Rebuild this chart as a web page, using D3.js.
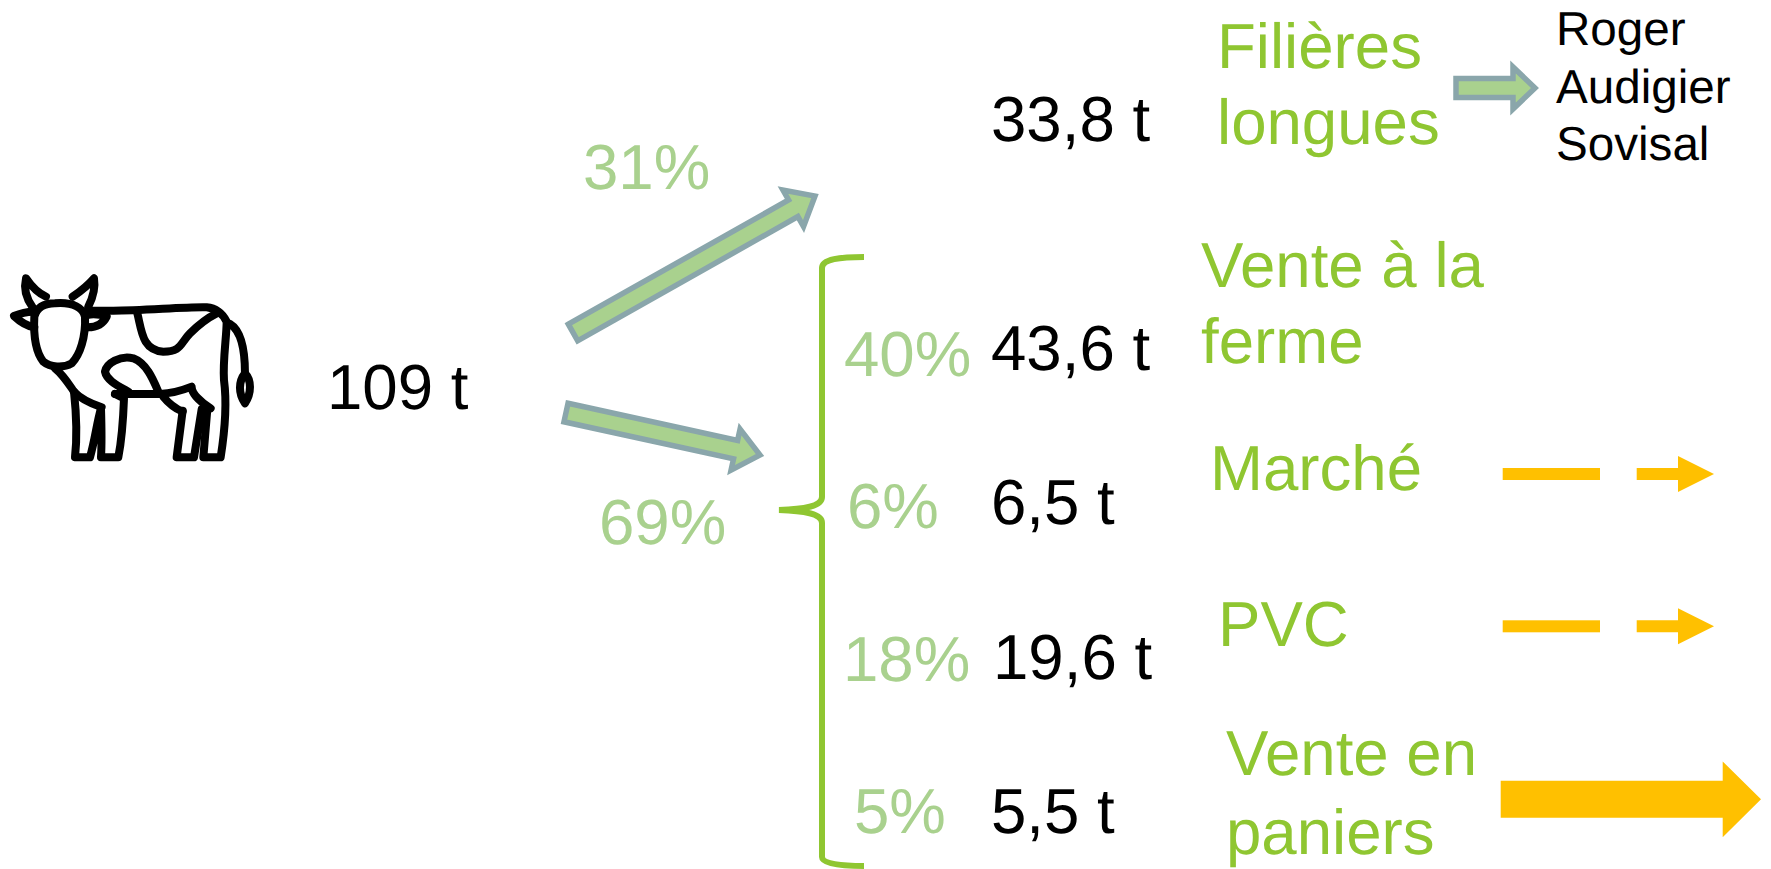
<!DOCTYPE html>
<html lang="fr">
<head>
<meta charset="utf-8">
<title>Débouchés</title>
<style>
	html, body { margin: 0; padding: 0; background: #fff; }
	svg { display: block; }
	text { font-family: "Liberation Sans", Arial, sans-serif; font-size: 63.6px; text-rendering: geometricPrecision; }
</style>
</head>
<body>
<svg id="chart" width="1771" height="869"></svg>
<script src="https://cdn.jsdelivr.net/npm/d3@7/dist/d3.min.js"></script>
<script>
'use strict';

// Values
var total = '109 t';
var splitShares = [ '31%', '69%' ];
var longTonnage = '33,8 t';
var longLabel = [ 'Filières', 'longues' ];
var buyers = [ 'Roger', 'Audigier', 'Sovisal' ];
var channels = [ 'ferme', 'marche', 'pvc', 'paniers' ];
var channelShares = [ '40%', '6%', '18%', '5%' ];
var channelTonnages = [ '43,6 t', '6,5 t', '19,6 t', '5,5 t' ];
var channelLabels = [ [ 'Vente à la', 'ferme' ], [ 'Marché' ], [ 'PVC' ], [ 'Vente en', 'paniers' ] ];

// Layout
var colors = {
	label: '#8fc631',
	share: '#a9d18e',
	border: '#8aa6ab',
	orange: '#ffc000'
};
var svg = d3.select('#chart');

var shareY = d3.scalePoint().domain(channels).range([ 376, 833 ]);
var tonnageY = d3.scalePoint().domain(channels).range([ 370, 833 ]);
var shareX = [ 844, 847, 843, 854 ];
var tonnageX = [ 991, 991, 993, 991 ];
var labelX = [ 1201, 1210, 1218, 1226 ];
var labelY = [ 287, 490, 646, 775 ];
var labelStep = [ 76, 0, 0, 79 ];

/**
 * Append one text element.
 * @param   {string} str
 * @param   {number} x
 * @param   {number} y
 * @param   {string} [fill]
 * @param   {number} [size]
 * @returns {D3Selection}
 */
function label(str, x, y, fill, size) {
	var t = svg.append('text')
		.attr('x', x)
		.attr('y', y)
		.attr('fill', fill || '#000')
		.text(str);
	if(size) {
		t.style('font-size', size + 'px');
	}
	return t;
}

/**
 * Outline of a block arrow going from a to b.
 * @param   {number[]} a      Tail centre.
 * @param   {number[]} b      Tip.
 * @param   {number}   shaft  Shaft width.
 * @param   {number}   head   Head width.
 * @param   {number}   len    Head length.
 * @returns {string}
 */
function blockArrow(a, b, shaft, head, len) {
	var dx = b[0] - a[0];
	var dy = b[1] - a[1];
	var l = Math.sqrt(dx * dx + dy * dy);
	var ux = dx / l;
	var uy = dy / l;
	var at = function(along, side) {
		return [ a[0] + ux * along - uy * side, a[1] + uy * along + ux * side ];
	};
	var points = [
		at(0, -shaft / 2),
		at(l - len, -shaft / 2),
		at(l - len, -head / 2),
		at(l, 0),
		at(l - len, head / 2),
		at(l - len, shaft / 2),
		at(0, shaft / 2)
	];
	return d3.line()(points) + 'Z';
}

// Cow icon, drawn in a 3x grid
var cowPaths = [
	'M165,160C130,160 110,175 103,200C100,260 110,310 130,335C150,352 190,355 215,340C240,315 258,260 255,200C250,175 220,155 165,160Z',
	'M98,172C75,140 72,110 78,85C95,110 115,130 138,140',
	'M218,140C240,125 265,105 282,85C287,115 275,150 265,170',
	'M100,185C80,185 60,190 42,198C60,215 80,228 103,232',
	'M264,232C290,232 310,220 320,200C305,195 285,190 262,195',
	'M262,182L340,182C430,182 560,170 620,172C650,175 670,195 680,215C680,260 668,330 672,390C680,450 675,540 662,622L610,622L622,478',
	'M548,482L530,622L582,622L605,478',
	'M345,432L480,432C520,430 550,420 575,410C575,430 600,455 632,475',
	'M490,440C510,465 525,475 548,485',
	'M165,355C190,375 205,400 222,425C240,445 270,460 305,472',
	'M222,425C230,500 232,560 225,622L270,622C285,570 290,520 303,475C305,540 305,590 303,622L355,622C365,570 370,500 372,445L345,432',
	'M412,190C425,240 425,300 490,305C545,305 540,280 570,250C590,230 620,205 650,190',
	'M475,425C460,390 440,340 400,325C360,315 320,340 315,365C320,390 350,405 385,425',
	'M690,222C720,240 735,290 735,370',
	'M735,370C755,390 755,430 735,460C715,430 715,395 735,370Z'
];

svg.append('g')
	.attr('transform', 'translate(0,250) scale(0.3333)')
	.attr('fill', 'none')
	.attr('stroke', '#000')
	.attr('stroke-width', 24)
	.attr('stroke-linecap', 'round')
	.attr('stroke-linejoin', 'round')
	.selectAll('path')
	.data(cowPaths)
	.join('path')
	.attr('d', function(d) { return d; });

// Green arrows
var greenArrows = [
	blockArrow([ 573, 332.5 ], [ 815, 196 ], 19, 42, 25),
	blockArrow([ 566, 412.5 ], [ 760, 455 ], 19, 42, 25),
	blockArrow([ 1456, 88 ], [ 1535, 88 ], 19, 42, 22)
];

svg.append('g')
	.selectAll('path')
	.data(greenArrows)
	.join('path')
	.attr('d', function(d) { return d; })
	.attr('fill', colors.share)
	.attr('stroke', colors.border)
	.attr('stroke-width', 5.5);

// Brace
svg.append('path')
	.attr('d', 'M864,257C840,257 822,259 822,268L822,497C822,506 806,509 779,510C806,511 822,514 822,523L822,857C822,864 842,866 864,866')
	.attr('fill', 'none')
	.attr('stroke', colors.label)
	.attr('stroke-width', 6)
	.attr('stroke-linecap', 'butt');

// Orange arrows
var orangeArrows = [
	{ tail: [ 1502.7, 474 ], dash: 1600, start: 1636.7, tip: 1714, shaft: 12, head: 36, len: 36 },
	{ tail: [ 1502.7, 626.3 ], dash: 1600, start: 1636.7, tip: 1714, shaft: 12, head: 36, len: 36 }
];
var orange = svg.append('g').attr('fill', colors.orange);

orangeArrows.forEach(function(d) {
	orange.append('rect')
		.attr('x', d.tail[0])
		.attr('y', d.tail[1] - d.shaft / 2)
		.attr('width', d.dash - d.tail[0])
		.attr('height', d.shaft);
	orange.append('path')
		.attr('d', blockArrow([ d.start, d.tail[1] ], [ d.tip, d.tail[1] ], d.shaft, d.head, d.len));
});
orange.append('path')
	.attr('d', blockArrow([ 1500.7, 799.3 ], [ 1761, 799.3 ], 37, 75.7, 38.3));

// Upper branch
label(total, 327, 409);
label(splitShares[0], 583, 189, colors.share);
label(splitShares[1], 599, 544, colors.share);
label(longTonnage, 991, 141);
longLabel.forEach(function(str, i) {
	label(str, 1217, 68 + i * 76, colors.label);
});
buyers.forEach(function(str, i) {
	label(str, 1556, 45 + i * 57.5, '#000', 47.6);
});

// Lower branch
channels.forEach(function(c, i) {
	label(channelShares[i], shareX[i], shareY(c), colors.share);
	label(channelTonnages[i], tonnageX[i], tonnageY(c));
	channelLabels[i].forEach(function(str, j) {
		label(str, labelX[i], labelY[i] + j * labelStep[i], colors.label);
	});
});
</script>
</body>
</html>
